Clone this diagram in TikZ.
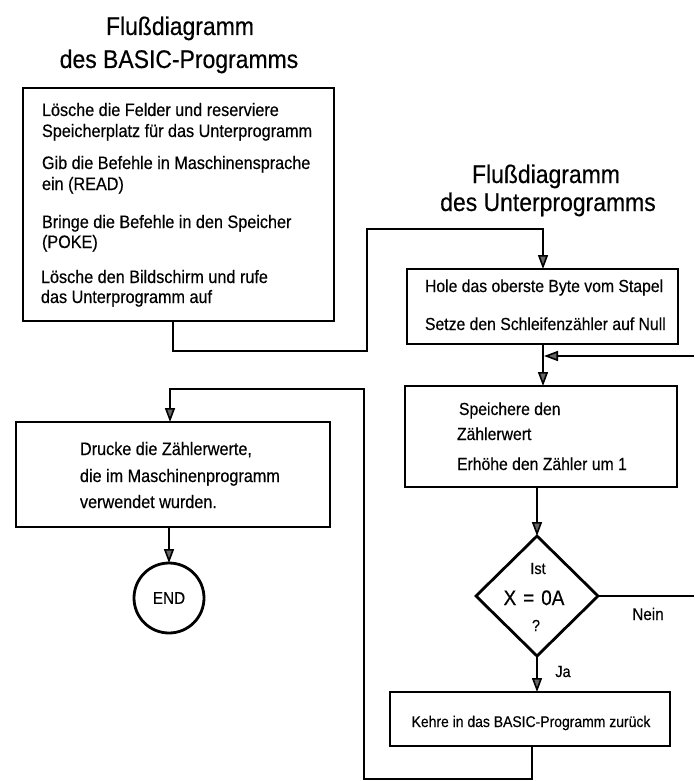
\documentclass[tikz,border=0pt]{standalone}
\usepackage{fontspec}
\setmainfont{Liberation Sans}[FakeStretch=0.9,FakeBold=0.4]
\usetikzlibrary{arrows.meta,shapes.geometric}
\tikzset{
  box/.style={draw, line width=2.8pt, inner sep=0pt, outer sep=0pt, anchor=north west},
  txt/.style={anchor=base west, inner sep=0pt, outer sep=0pt},
  ctxt/.style={anchor=base, inner sep=0pt, outer sep=0pt},
  fA/.style={font=\fontsize{18}{22}\selectfont},
  fB/.style={font=\fontsize{17.5}{21}\selectfont},
  fT/.style={font=\fontsize{25.5}{30}\selectfont},
  conn/.style={line width=1.6pt},
  arr/.style={line width=1.6pt, -{Triangle[length=14pt,width=10pt,fill=black!60]}},
}
\begin{document}
\begin{tikzpicture}[x=1pt,y=-1pt]
\useasboundingbox (0,0) rectangle (694,781);

% titles
\node[ctxt,fT] (t1a) at (180,35) {Flußdiagramm};
\node[ctxt,fT] (t1b) at (179,68) {des BASIC-Programms};
\node[ctxt,fT] (t2a) at (546,183) {Flußdiagramm};
\node[ctxt,fT] (t2b) at (548,211) {des Unterprogramms};

% box 1
\node[box, minimum width=311pt, minimum height=233pt] (b1) at (23,88) {};
\node[txt,fA] (l1) at (42,116) {Lösche die Felder und reserviere};
\node[txt,fA] (l2) at (42,137) {Speicherplatz für das Unterprogramm};
\node[txt,fA] (l3) at (42,169) {Gib die Befehle in Maschinensprache};
\node[txt,fA] (l4) at (42,190) {ein (READ)};
\node[txt,fA] (l5) at (42,228) {Bringe die Befehle in den Speicher};
\node[txt,fA] (l6) at (42,248) {(POKE)};
\node[txt,fA] (l7) at (41,283) {Lösche den Bildschirm und rufe};
\node[txt,fA] (l8) at (41,303) {das Unterprogramm auf};

% box 2
\node[box, minimum width=271pt, minimum height=75pt] (b2) at (407,269) {};
\node[txt,fB] (m1) at (425,292) {Hole das oberste Byte vom Stapel};
\node[txt,fB] (m2) at (425,330) {Setze den Schleifenzähler auf Null};

% box 3
\node[box, minimum width=272pt, minimum height=101pt] (b3) at (405,386) {};
\node[txt,fB] (n1) at (459,415) {Speichere den};
\node[txt,fB] (n2) at (457,440) {Zählerwert};
\node[txt,fB] (n3) at (457,470) {Erhöhe den Zähler um 1};

% diamond
\node[draw, diamond, line width=2.8pt, inner sep=0pt, outer sep=0pt,
      minimum width=122pt, minimum height=120pt] (dia) at (537,596) {};
\node[ctxt,font=\fontsize{16}{19}\selectfont] (d1) at (538,574) {Ist};
\node[ctxt,font=\fontsize{21}{25}\selectfont] (d2) at (534,605) {X\hspace{7pt}=\hspace{7pt}0A};
\node[ctxt,font=\fontsize{16}{19}\selectfont] (d3) at (536,631) {?};
\node[ctxt,font=\fontsize{17}{20}\selectfont] (nein) at (648,620) {Nein};
\node[ctxt,font=\fontsize{16}{19}\selectfont] (ja) at (563,677) {Ja};

% box 4
\node[box, minimum width=280pt, minimum height=54pt] (b4) at (390,692) {};
\node[ctxt,font=\fontsize{15.5}{19}\selectfont] (k1) at (531,727) {Kehre in das BASIC-Programm zurück};

% box 5
\node[box, minimum width=314pt, minimum height=105pt] (b5) at (16,422) {};
\node[txt,fA] (o1) at (80,455) {Drucke die Zählerwerte,};
\node[txt,fA] (o2) at (80,482) {die im Maschinenprogramm};
\node[txt,fA] (o3) at (80,508) {verwendet wurden.};

% END
\node[draw, circle, line width=2.8pt, minimum size=70pt, inner sep=0pt, outer sep=0pt,
      font=\fontsize{17}{20}\selectfont] (endc) at (169,598) {END};

% connectors
\coordinate (p1a) at (173,351);
\coordinate (p1b) at (367,351);
\coordinate (p1c) at (367,229);
\coordinate (p1d) at (543,229);
\draw[arr] (b1.south -| p1a) -- (p1a) -- (p1b) -- (p1c) -- (p1d) -- (b2.north -| p1d);

\draw[arr] (b2.south -| p1d) -- (b3.north -| p1d);
\coordinate (loopR) at (694,356);
\coordinate (loopJ) at (544,356);
\draw[arr] (loopR) -- (loopJ);

\draw[arr] (b3.south -| dia.north) -- (dia.north);
\draw[arr] (dia.south) -- (b4.north -| dia.south);
\coordinate (neinR) at (694,596);
\draw[conn] (dia.east) -- (neinR);

\coordinate (q1) at (532,779);
\coordinate (q2) at (364,779);
\coordinate (q3) at (364,389);
\coordinate (q4) at (170,389);
\draw[arr] (b4.south -| q1) -- (q1) -- (q2) -- (q3) -- (q4) -- (b5.north -| q4);

\draw[arr] (b5.south -| endc.north) -- (endc.north);
\end{tikzpicture}
\end{document}
